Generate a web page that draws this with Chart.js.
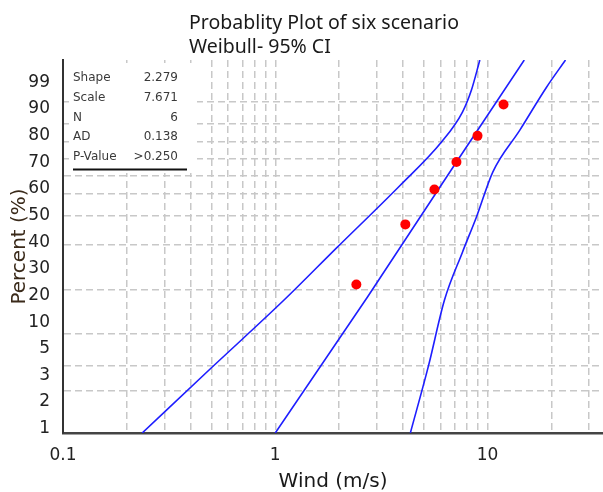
<!DOCTYPE html>
<html>
<head>
<meta charset="utf-8">
<script src="https://cdn.jsdelivr.net/npm/chart.js@4.4.0/dist/chart.umd.min.js"></script>
<style>
  html, body { margin: 0; padding: 0; background: #fff; }
</style>
</head>
<body>
<canvas id="probChart" width="603" height="492"></canvas>
<script>
// values (x = wind in m/s, y = percent)
const pointX = [2.41, 4.10, 5.62, 7.14, 8.97, 11.9];
const pointPct = [10.9, 26.6, 42.2, 57.8, 73.4, 89.1];

const fitX = [1.0, 2.72, 7.14, 14.9];
const fitPct = [1, 8.96, 57.8, 99];

const upperX = [0.236, 0.499, 1.10, 1.94, 3.85, 6.07, 7.62, 8.40, 9.2];
const upperPct = [1, 2.88, 8.54, 18.9, 44.1, 69.8, 85.9, 94.0, 99];

const lowerX = [4.33, 5.27, 6.27, 7.62, 8.87, 10.6, 14.2, 19.0, 23.3];
const lowerPct = [1, 2.98, 8.54, 17.8, 29.5, 52.0, 76.7, 94.8, 99];

const xGridTicks = [0.1, 0.2, 0.3, 0.4, 0.5, 0.6, 0.7, 0.8, 0.9, 1, 2, 3, 4, 5, 6, 7, 8, 9, 10, 20, 30];
const xLabelTicks = [0.1, 1, 10];
const yGridTicks = [1, 2, 3, 5, 10, 20, 30, 40, 50, 60, 70, 80, 90, 99];
const yTickLabels = ['99', '90', '80', '70', '60', '50', '40', '30', '20', '10', '5', '3', '2', '1'];

const statLabels = ['Shape', 'Scale', 'N', 'AD', 'P-Value'];
const statValues = ['2.279', '7.671', '6', '0.138', '>0.250'];

const titleLines = ['Probablity Plot of six scenario', 'Weibull- 95% CI'];

// weibull probability paper: ln(-ln(1-p))
function weib(pct) {
    return Math.log(-Math.log(1 - pct / 100));
}

class WeibullScale extends Chart.LinearScale {
    determineDataLimits() {
        this.min = this.options.min;
        this.max = this.options.max;
    }
    buildTicks() {
        return [];
    }
    configure() {
        super.configure();
        this._wStart = weib(this.min);
        this._wRange = weib(this.max) - this._wStart;
    }
    getPixelForValue(value) {
        return this.getPixelForDecimal((weib(value) - this._wStart) / this._wRange);
    }
    getValueForPixel(pixel) {
        const w = this._wStart + this.getDecimalForPixel(pixel) * this._wRange;
        return 100 * (1 - Math.exp(-Math.exp(w)));
    }
}
WeibullScale.id = 'weibull';
WeibullScale.defaults = {};
Chart.register(WeibullScale);

function toXY(xs, ys) {
    return xs.map((x, i) => ({x: x, y: ys[i]}));
}

const GRID = '#c8c8c8';
const BLUE = '#1e1eff';

const headerPlugin = {
    id: 'header',
    beforeDatasetsDraw(chart) {
        const {ctx, chartArea} = chart;
        const bx = chartArea.left + 10;
        const top = chartArea.top;
        ctx.save();
        // stats box sits over the grid
        ctx.fillStyle = '#fff';
        ctx.fillRect(bx - 4, top + 3, 128, 110);
        ctx.font = '12px "DejaVu Sans"';
        ctx.fillStyle = '#3a3a3a';
        ctx.textBaseline = 'middle';
        statLabels.forEach((lab, i) => {
            const ty = top + 18 + i * 19.75;
            ctx.textAlign = 'left';
            ctx.fillText(lab, bx, ty);
            ctx.textAlign = 'right';
            ctx.fillText(statValues[i], bx + 105, ty);
        });
        ctx.strokeStyle = '#111';
        ctx.lineWidth = 2;
        ctx.beginPath();
        ctx.moveTo(bx, top + 109.5);
        ctx.lineTo(bx + 114, top + 109.5);
        ctx.stroke();
        ctx.restore();
    },
    afterDraw(chart) {
        const ctx = chart.ctx;
        ctx.save();
        ctx.font = '19.5px "Noto Sans"';
        ctx.fillStyle = '#1a1a1a';
        ctx.textAlign = 'left';
        ctx.textBaseline = 'middle';
        titleLines.forEach((line, i) => {
            ctx.fillText(line, 189, 23 + i * 24);
        });
        ctx.restore();
    }
};

const lineSet = (label, xs, ys, smooth) => ({
    label: label,
    data: toXY(xs, ys),
    showLine: true,
    borderColor: BLUE,
    borderWidth: 1.6,
    pointRadius: 0,
    tension: smooth ? 0.4 : 0,
    cubicInterpolationMode: smooth ? 'monotone' : 'default',
    fill: false
});

new Chart(document.getElementById('probChart'), {
    type: 'scatter',
    data: {
        datasets: [
            {
                label: 'Wind',
                data: toXY(pointX, pointPct),
                pointStyle: 'circle',
                pointRadius: 5,
                backgroundColor: '#ff0000',
                borderWidth: 0
            },
            lineSet('Fit', fitX, fitPct, false),
            lineSet('Upper', upperX, upperPct, true),
            lineSet('Lower', lowerX, lowerPct, true)
        ]
    },
    plugins: [headerPlugin],
    options: {
        responsive: false,
        animation: false,
        layout: {autoPadding: false, padding: {top: 60, right: 0, bottom: 0, left: 0}},
        plugins: {
            legend: {display: false},
            tooltip: {enabled: false}
        },
        scales: {
            x: {
                type: 'logarithmic',
                min: 0.1,
                max: 35,
                afterBuildTicks: s => { s.ticks = xGridTicks.map(v => ({value: v})); },
                afterFit: s => { s.height = 59; },
                grid: {color: GRID, lineWidth: 1.5, drawTicks: false},
                border: {display: true, color: '#444', width: 2.5, dash: [7, 4]},
                ticks: {
                    autoSkip: false,
                    maxRotation: 0,
                    padding: 12,
                    color: '#222',
                    font: {family: 'DejaVu Sans', size: 17},
                    callback: v => xLabelTicks.includes(v) ? String(v) : ''
                },
                title: {
                    display: true,
                    text: 'Wind (m/s)',
                    color: '#1a1a1a',
                    font: {family: 'DejaVu Sans', size: 20, lineHeight: 1},
                    padding: {top: 0, bottom: 0}
                }
            },
            y: {
                type: 'weibull',
                position: 'left',
                min: 1,
                max: 99,
                afterBuildTicks: s => { s.ticks = yGridTicks.map(v => ({value: v})); },
                afterFit: s => { s.width = 0; },
                grid: {
                    color: c => c.tick && c.tick.value === 99 ? 'rgba(0,0,0,0)' : GRID,
                    lineWidth: 1.5,
                    drawTicks: false
                },
                border: {display: true, color: '#333', width: 2, dash: [7, 4]},
                ticks: {display: false}
            },
            yLab: {
                type: 'category',
                axis: 'y',
                position: 'left',
                labels: yTickLabels,
                offset: true,
                afterFit: s => { s.width = 63; },
                grid: {display: false},
                border: {display: false},
                ticks: {
                    autoSkip: false,
                    padding: 5,
                    labelOffset: 9,
                    color: '#222',
                    font: {family: 'DejaVu Sans', size: 17}
                },
                title: {
                    display: true,
                    text: 'Percent (%)',
                    color: '#3a2a1a',
                    font: {family: 'DejaVu Sans', size: 20},
                    padding: {top: 8, bottom: 0}
                }
            }
        }
    }
});
</script>
</body>
</html>
